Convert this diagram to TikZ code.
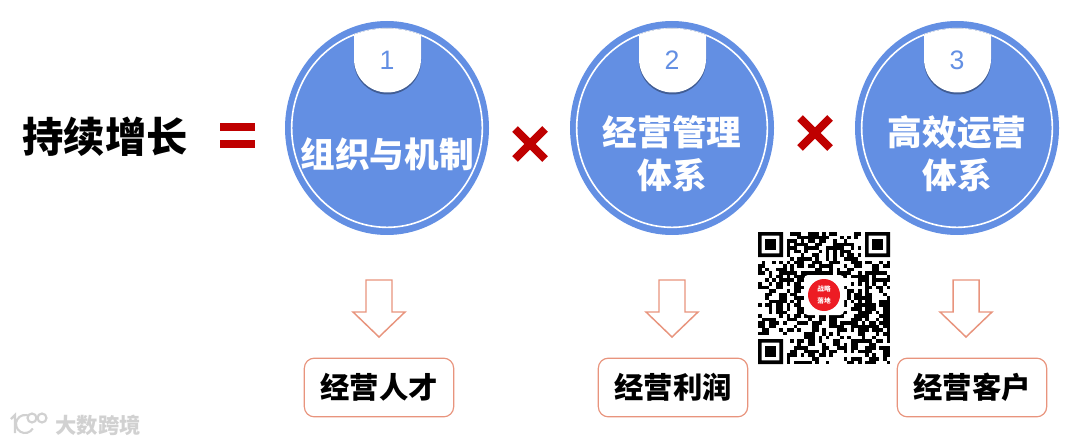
\documentclass[tikz,border=0pt]{standalone}
\usepackage{fontspec}
\usetikzlibrary{shapes.geometric}
\setsansfont{Liberation Sans}
\newfontfamily\cjk{Noto Sans CJK SC}
\definecolor{discblue}{rgb}{0.39, 0.56, 0.89}
\definecolor{signred}{rgb}{0.75, 0.0, 0.0}
\definecolor{salmon}{rgb}{0.91, 0.58, 0.49}
\definecolor{qrred}{rgb}{0.93, 0.11, 0.14}
\definecolor{markgrey}{rgb}{0.82, 0.82, 0.82}
\tikzset{
	disc/.style={ellipse,fill=discblue,minimum width=153pt,minimum height=160.5pt,inner sep=0pt},
	ring/.style={ellipse,draw=white,line width=1.2pt,minimum width=143pt,minimum height=149pt,inner sep=0pt},
	tabshade/.style={fill=black!35!discblue},
	tabfill/.style={fill=white},
	tabnum/.style={color=discblue,font=\sffamily\fontsize{20}{20}\selectfont},
	disctext/.style={color=white,align=center,font=\cjk\bfseries\fontsize{26}{32}\selectfont},
	bigsign/.style={draw=signred,line width=6pt},
	hollowarrow/.style={draw=salmon,fill=white,line width=1.1pt,line join=miter},
	resultbox/.style={draw=salmon,rounded corners=7.5pt,line width=0.9pt,minimum width=112pt,minimum height=44pt,font=\cjk\bfseries\fontsize{22}{22}\selectfont},
	finderpart/.style={fill=black},
	finderhole/.style={fill=white},
	markstroke/.style={draw=markgrey,line width=1.6pt},
}
\begin{document}
\begin{tikzpicture}[x=0.75pt,y=0.75pt,yscale=-1,xscale=1]
	\useasboundingbox (0,0) rectangle (1080,445);

	% Text Node
	\node (title) at (105,137) [font=\cjk\bfseries\fontsize{31}{31}\selectfont] {持续增长};
	%Shape: Equals
	\draw [bigsign] (220,127) -- (255,127);
	\draw [bigsign] (220,144) -- (255,144);

	%Shape: Circle
	\node [disc] (disc1) at (387,128) {};
	\node [ring] (ring1) at (disc1) {};
	\begin{scope}
		\clip (disc1) ellipse (95.5 and 99.5);
		\fill [tabshade] (354,20) -- (354,61) arc (180:0:33.5) -- (421,20) -- cycle;
		\fill [tabfill] (354,20) -- (354,59) arc (180:0:33.5) -- (421,20) -- cycle;
	\end{scope}
	%Shape: Circle
	\node [disc] (disc2) at (672,128) {};
	\node [ring] (ring2) at (disc2) {};
	\begin{scope}
		\clip (disc2) ellipse (95.5 and 99.5);
		\fill [tabshade] (639,20) -- (639,61) arc (180:0:33.5) -- (706,20) -- cycle;
		\fill [tabfill] (639,20) -- (639,59) arc (180:0:33.5) -- (706,20) -- cycle;
	\end{scope}
	%Shape: Circle
	\node [disc] (disc3) at (957,128) {};
	\node [ring] (ring3) at (disc3) {};
	\begin{scope}
		\clip (disc3) ellipse (95.5 and 99.5);
		\fill [tabshade] (924,20) -- (924,61) arc (180:0:33.5) -- (991,20) -- cycle;
		\fill [tabfill] (924,20) -- (924,59) arc (180:0:33.5) -- (991,20) -- cycle;
	\end{scope}

	% Text Node
	\node [tabnum] (num1) at (387,60) {1};
	\node [tabnum] (num2) at (672,60) {2};
	\node [tabnum] (num3) at (957,60) {3};
	% Text Node
	\node [disctext] (name1) at (387,154) {组织与机制};
	\node [disctext] (name2) at (672,154) {经营管理\\体系};
	\node [disctext] (name3) at (957,154) {高效运营\\体系};

	%Shape: Cross
	\draw [bigsign] (515,129) -- (545,159) (545,129) -- (515,159);
	\draw [bigsign] (800,118) -- (830,148) (830,118) -- (800,148);

	%Shape: Down Arrow
	\draw [hollowarrow] (366,280) -- (392,280) -- (392,312) -- (405,312) -- (379,337) -- (353,312) -- (366,312) -- cycle;
	\draw [hollowarrow] (659,280) -- (685,280) -- (685,312) -- (698,312) -- (672,337) -- (646,312) -- (659,312) -- cycle;
	\draw [hollowarrow] (953,280) -- (979,280) -- (979,312) -- (992,312) -- (966,337) -- (940,312) -- (953,312) -- cycle;

	% Text Node
	\node [resultbox] (box1) at (379,387.5) {经营人才};
	\node [resultbox] (box2) at (673,387.5) {经营利润};
	\node [resultbox] (box3) at (972,387.5) {经营客户};

	%Shape: QR modules
	\pgfmathsetseed{4711}
	\foreach \qrrow in {0,...,36}{
		\foreach \qrcol in {0,...,36}{
			\pgfmathrandominteger{\qrbit}{0}{1}
			\ifnum\qrbit=1
				\fill [black] (758+\qrcol*3.57,232+\qrrow*3.57) rectangle +(3.57,3.57);
			\fi
		}
	}
	%Shape: QR finder
	\fill [finderhole] (758,232) rectangle +(29,29);
	\fill [finderhole] (861,232) rectangle +(29,29);
	\fill [finderhole] (758,335) rectangle +(29,29);
	\fill [finderpart,even odd rule] (758,232) rectangle +(25,25) (761.6,235.6) rectangle +(17.8,17.8) (765.1,239.1) rectangle +(10.8,10.8);
	\fill [finderpart,even odd rule] (865,232) rectangle +(25,25) (868.6,235.6) rectangle +(17.8,17.8) (872.1,239.1) rectangle +(10.8,10.8);
	\fill [finderpart,even odd rule] (758,339) rectangle +(25,25) (761.6,342.6) rectangle +(17.8,17.8) (765.1,346.1) rectangle +(10.8,10.8);
	%Shape: QR badge
	\fill [white,rounded corners=3pt] (804,275) rectangle (844,315);
	\node [circle,fill=qrred,minimum size=24pt,inner sep=0pt] (badge) at (824,295) {};
	% Text Node
	\node [color=white,align=center,font=\cjk\bfseries\fontsize{5}{9}\selectfont] (badgetext) at (badge) {战略\\落地};

	%Shape: Watermark logo
	\draw [markstroke] (11,419) -- (15,415) -- (15,433);
	\draw [markstroke] (32.8,428.5) arc (30:330:9);
	\draw [markstroke,fill=white] (32,418) circle (4.5);
	\draw [markstroke,fill=white] (42,418) circle (4.5);
	% Text Node
	\node [color=markgrey,font=\cjk\bfseries\fontsize{16}{16}\selectfont] (mark) at (98,425) {大数跨境};
\end{tikzpicture}
\end{document}
